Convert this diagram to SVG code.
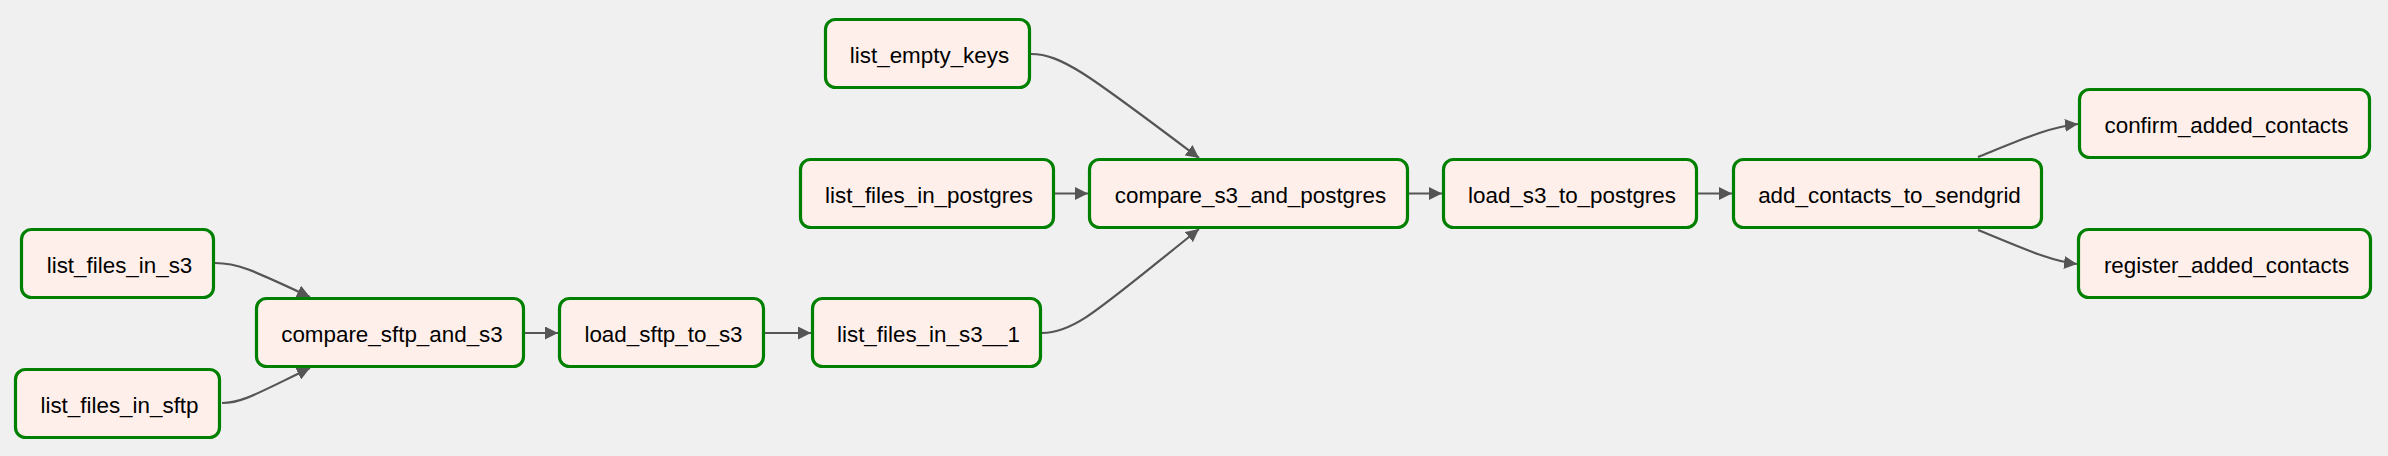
<svg xmlns="http://www.w3.org/2000/svg" width="2388" height="456" viewBox="0 0 2388 456">
<defs>
<marker id="arr" markerUnits="userSpaceOnUse" markerWidth="13" markerHeight="13" viewBox="0 0 10 10" refX="10" refY="5" orient="auto">
<path d="M0,0 L10,5 L0,10 z" fill="#555555"/>
</marker>
</defs>
<style>
.node rect{fill:#ffefeb;stroke:#008000;stroke-width:3.2}
.node text{font-family:"Liberation Sans",Arial,sans-serif;font-size:22.4px;fill:#000;text-anchor:middle}
.edge{fill:none;stroke:#555555;stroke-width:2.2;marker-end:url(#arr)}
</style>
<rect width="2388" height="456" fill="#f0f0f0"/>
<g id="edges">
<path class="edge" d="M215,263 C238,263 252,270 310,297"/>
<path class="edge" d="M222,403 C242,403 256,394 310,368"/>
<path class="edge" d="M525,333 L558,333"/>
<path class="edge" d="M765,333 L811,333"/>
<path class="edge" d="M1042,333 C1075,333 1100,308 1199,229"/>
<path class="edge" d="M1031,54 C1062,54 1090,76 1199,158"/>
<path class="edge" d="M1055,193.5 L1088,193.5"/>
<path class="edge" d="M1409,193.5 L1442,193.5"/>
<path class="edge" d="M1698,193.5 L1732,193.5"/>
<path class="edge" d="M1978,157 C2025,138 2050,127 2078,124"/>
<path class="edge" d="M1978,230 C2025,249 2050,261 2077,264"/>
</g>
<g id="list_empty_keys" class="node"><rect x="825.5" y="19.5" width="204" height="68" rx="10"/><text x="929.5" y="62.5">list_empty_keys</text></g>
<g id="list_files_in_postgres" class="node"><rect x="800.5" y="159.5" width="253" height="68" rx="10"/><text x="929" y="202.5">list_files_in_postgres</text></g>
<g id="compare_s3_and_postgres" class="node"><rect x="1089.5" y="159.5" width="318" height="68" rx="10"/><text x="1250.5" y="202.5">compare_s3_and_postgres</text></g>
<g id="load_s3_to_postgres" class="node"><rect x="1443.5" y="159.5" width="253" height="68" rx="10"/><text x="1572" y="202.5">load_s3_to_postgres</text></g>
<g id="add_contacts_to_sendgrid" class="node"><rect x="1733.5" y="159.5" width="308" height="68" rx="10"/><text x="1889.5" y="202.5">add_contacts_to_sendgrid</text></g>
<g id="confirm_added_contacts" class="node"><rect x="2079.5" y="89.5" width="290" height="68" rx="10"/><text x="2226.5" y="132.5">confirm_added_contacts</text></g>
<g id="register_added_contacts" class="node"><rect x="2078.5" y="229.5" width="292" height="68" rx="10"/><text x="2226.5" y="272.5">register_added_contacts</text></g>
<g id="list_files_in_s3" class="node"><rect x="21.5" y="229.5" width="192" height="68" rx="10"/><text x="119.5" y="272.5">list_files_in_s3</text></g>
<g id="compare_sftp_and_s3" class="node"><rect x="256.5" y="298.5" width="267" height="68" rx="10"/><text x="392" y="341.5">compare_sftp_and_s3</text></g>
<g id="load_sftp_to_s3" class="node"><rect x="559.5" y="298.5" width="204" height="68" rx="10"/><text x="663.5" y="341.5">load_sftp_to_s3</text></g>
<g id="list_files_in_s3__1" class="node"><rect x="812.5" y="298.5" width="228" height="68" rx="10"/><text x="928.5" y="341.5">list_files_in_s3__1</text></g>
<g id="list_files_in_sftp" class="node"><rect x="15.5" y="369.5" width="204" height="68" rx="10"/><text x="119.5" y="412.5">list_files_in_sftp</text></g>
</svg>
